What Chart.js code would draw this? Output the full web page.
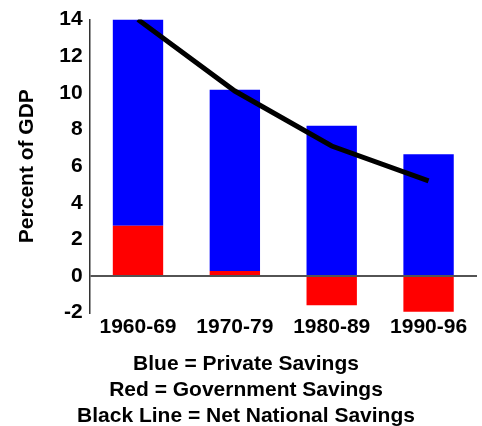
<!DOCTYPE html>
<html>
<head>
<meta charset="utf-8">
<script src="https://cdn.jsdelivr.net/npm/chart.js@4/dist/chart.umd.min.js"></script>
<style>
  html, body { margin: 0; padding: 0; background: #fff; }
  #wrap { width: 482px; height: 426px; }
</style>
</head>
<body>
<div id="wrap"><canvas id="savings_chart"></canvas></div>
<script>
// te dhenat e lexuara nga figura (perqindje e GDP)
const periods = ['1960-69', '1970-79', '1980-89', '1990-96'];
const governmentSavings = [2.75, 0.27, -1.6, -1.95];
const privateSavings = [11.25, 9.9, 8.2, 6.65];
const netNationalSavings = [14, 10.1, 7.1, 5.2];
const yTicks = [-2, 0, 2, 4, 6, 8, 10, 12, 14];
const notes = ['Blue = Private Savings', 'Red = Government Savings', 'Black Line = Net National Savings'];

const fontFamily = '"Liberation Sans", Arial, Helvetica, sans-serif';

const data = {
    labels: periods,
    datasets: [
        {
            type: 'line',
            label: 'Net National Savings',
            data: netNationalSavings,
            borderColor: '#000',
            borderWidth: 5,
            pointRadius: 0,
            tension: 0,
            fill: false,
            stack: 'net',
            order: 0
        },
        {
            type: 'bar',
            label: 'Government Savings',
            data: governmentSavings,
            backgroundColor: '#ff0000',
            borderWidth: 0,
            stack: 'sav',
            order: 1
        },
        {
            type: 'bar',
            label: 'Private Savings',
            data: privateSavings,
            backgroundColor: '#0000ff',
            borderWidth: 0,
            stack: 'sav',
            order: 1
        }
    ]
};

const config = {
    type: 'bar',
    data: data,
    options: {
        responsive: true,
        maintainAspectRatio: false,
        animation: false,
        layout: { padding: { left: 15, right: 5, top: 10, bottom: -3 } },
        datasets: {
            bar: { categoryPercentage: 1, barPercentage: 0.52 }
        },
        scales: {
            x: {
                stacked: true,
                grid: { display: false, drawTicks: false },
                border: { display: false },
                ticks: {
                    color: '#000',
                    padding: 2,
                    font: { family: fontFamily, size: 21, weight: 'bold' }
                }
            },
            y: {
                stacked: true,
                min: -2,
                max: 14,
                z: 1, // vija e zeros vizatohet mbi kolonat
                afterBuildTicks: function(scale) {
                    scale.ticks = yTicks.map(function(v) { return { value: v }; });
                },
                grid: {
                    drawTicks: false,
                    lineWidth: 2,
                    color: function(ctx) {
                        return ctx.tick && ctx.tick.value === 0 ? 'rgba(40,40,40,0.8)' : 'rgba(0,0,0,0)';
                    }
                },
                border: { display: true, color: '#333', width: 1.5 },
                ticks: {
                    color: '#000',
                    padding: 7,
                    font: { family: fontFamily, size: 21, weight: 'bold' }
                },
                title: {
                    display: true,
                    text: 'Percent of GDP',
                    color: '#000',
                    padding: { top: 0, bottom: 12 },
                    font: { family: fontFamily, size: 21, weight: 'bold' }
                }
            }
        },
        plugins: {
            legend: { display: false },
            tooltip: { enabled: false },
            title: {
                display: true,
                position: 'bottom',
                text: notes,
                color: '#000',
                padding: { top: 9, bottom: 0 },
                font: { family: fontFamily, size: 21, weight: 'bold', lineHeight: 1.24 }
            }
        }
    }
};

var myChart = new Chart(document.getElementById('savings_chart'), config);
</script>
</body>
</html>
